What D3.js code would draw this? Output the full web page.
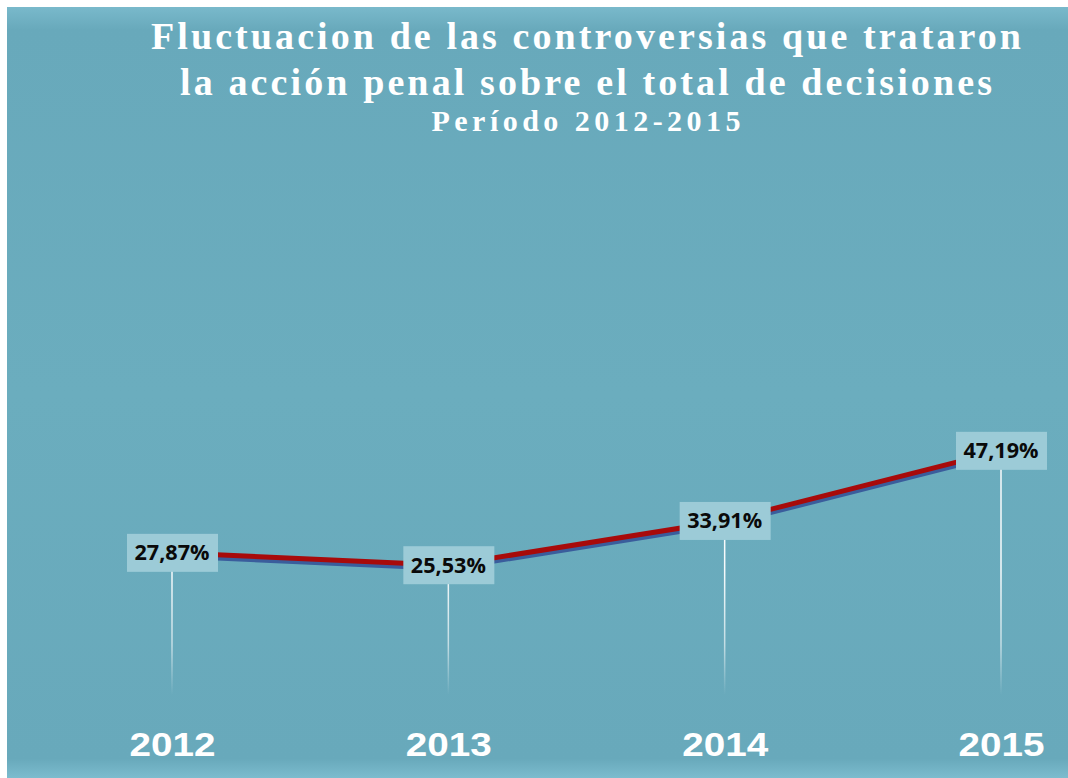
<!DOCTYPE html>
<html><head><meta charset="utf-8">
<script src="https://cdn.jsdelivr.net/npm/d3@7"></script>
<style>html,body{margin:0;padding:0;background:#fff;}svg{display:block;}</style>
</head><body>
<script>
const years = ["2012","2013","2014","2015"];
const values = [27.87, 25.53, 33.91, 47.19];
const valueLabels = ["27,87%","25,53%","33,91%","47,19%"];
const titleLines = ["Fluctuacion de las controversias que trataron","la acción penal sobre el total de decisiones","Período 2012-2015"];

const W = 1068, H = 778;
const svg = d3.select("body").append("svg").attr("width", W).attr("height", H);
const defs = svg.append("defs");
const bg = defs.append("linearGradient").attr("id","bg").attr("x1",0).attr("y1",0).attr("x2",0).attr("y2",1);
bg.append("stop").attr("offset","0").attr("stop-color","#79b9cb");
bg.append("stop").attr("offset","0.03").attr("stop-color","#68a9bb");
bg.append("stop").attr("offset","0.5").attr("stop-color","#6badbe");
bg.append("stop").attr("offset","0.975").attr("stop-color","#68a9bb");
bg.append("stop").attr("offset","1").attr("stop-color","#7cbcce");
const dl = defs.append("linearGradient").attr("id","dl").attr("gradientUnits","userSpaceOnUse")
  .attr("x1",0).attr("y1",570).attr("x2",0).attr("y2",695);
dl.append("stop").attr("offset","0").attr("stop-color","#ffffff").attr("stop-opacity",0.95);
dl.append("stop").attr("offset","0.6").attr("stop-color","#ffffff").attr("stop-opacity",0.6);
dl.append("stop").attr("offset","1").attr("stop-color","#ffffff").attr("stop-opacity",0);

svg.append("rect").attr("x",7).attr("y",7).attr("width",W-7).attr("height",H-7).attr("fill","url(#bg)");

// title
const tl = [{y:49, size:38, len:870},{y:95, size:38, len:812},{y:131, size:30, len:309}];
titleLines.forEach((t,i)=>{
  svg.append("text").attr("x",586).attr("y",tl[i].y).attr("text-anchor","middle")
    .attr("font-family","'Liberation Serif','Times New Roman',serif").attr("font-weight","bold")
    .attr("font-size",tl[i].size).attr("fill","#ffffff")
    .attr("textLength",tl[i].len).attr("lengthAdjust","spacing").text(t);
});

const x = d3.scalePoint().domain(years).range([172, 1001]);
const y = d3.scaleLinear().domain([0, 100]).range([700, 172]);

const data = years.map((yr,i)=>({yr, v: values[i], lab: valueLabels[i]}));

// drop lines
svg.selectAll(".drop").data(data).enter().append("rect")
  .attr("x", d=>x(d.yr)-0.75).attr("y", d=>y(d.v)+18).attr("width",1.5)
  .attr("height", d=>695-(y(d.v)+18)).attr("fill","url(#dl)");

// line
const line = d3.line().x(d=>x(d.yr)).y(d=>y(d.v));
svg.append("path").datum(data).attr("d",line).attr("transform","translate(0,3)")
  .attr("fill","none").attr("stroke","#3a5d9c").attr("stroke-width",5.5);
svg.append("path").datum(data).attr("d",line)
  .attr("fill","none").attr("stroke","#a80a0a").attr("stroke-width",5);

// labels
const g = svg.selectAll(".lab").data(data).enter().append("g")
  .attr("transform", d=>`translate(${x(d.yr)},${y(d.v)})`);
g.append("rect").attr("x",-45).attr("y",-19).attr("width",91).attr("height",38).attr("fill","#9ccbd7");
g.append("text").attr("x",0).attr("y",7.5).attr("text-anchor","middle")
  .attr("font-family","'Open Sans','Noto Sans',sans-serif").attr("font-weight","bold")
  .attr("font-size",21).attr("fill","#0a0a0a")
  .attr("textLength",75).attr("lengthAdjust","spacingAndGlyphs").text(d=>d.lab);

// x axis labels
const axis = d3.axisBottom(x).tickSize(0).tickPadding(0);
const ax = svg.append("g").attr("transform","translate(0,756)").call(axis);
ax.select(".domain").remove();
ax.selectAll("text").attr("dy",0).attr("y",0)
  .attr("font-family","'Liberation Sans',Arial,sans-serif").attr("font-weight","bold")
  .attr("font-size",34).attr("fill","#ffffff")
  .attr("textLength",86).attr("lengthAdjust","spacingAndGlyphs");
</script>
</body></html>
